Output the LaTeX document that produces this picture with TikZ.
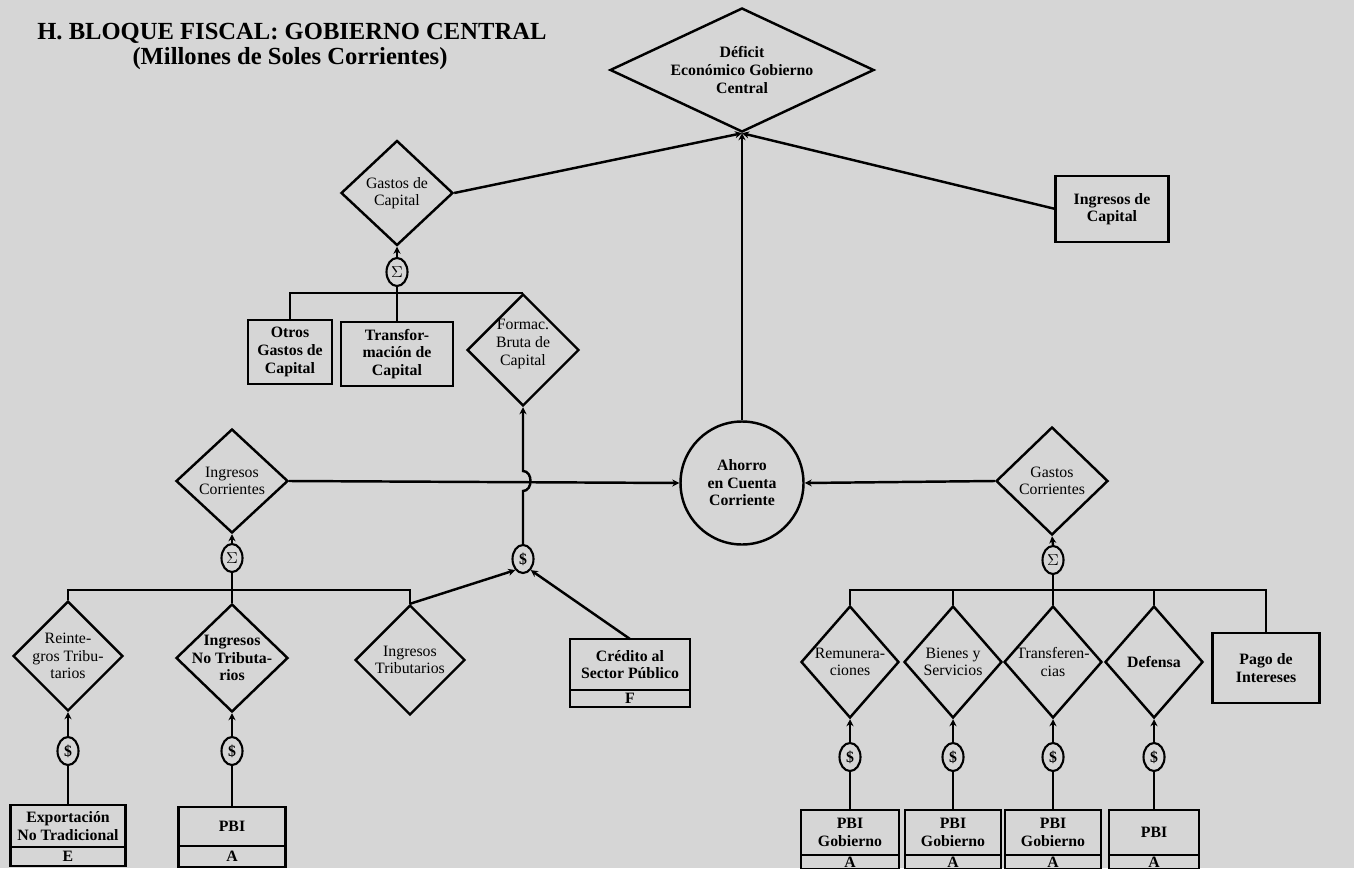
\documentclass[tikz,border=0pt]{standalone}
\usepackage{fontspec}
\setmainfont{Liberation Serif}
\usetikzlibrary{shapes.geometric,arrows.meta}
\newcommand\pxu[1]{#1*0.02cm}
\definecolor{paper}{RGB}{214,214,214}
\begin{document}
\begin{tikzpicture}[x=0.02cm,y=-0.02cm,
  ink/.style={line width=1.4pt,black},
  link/.style={ink},
  flow/.style={ink,-{Stealth[length=4pt,width=4pt]}},
  dia/.style 2 args={draw,ink,diamond,inner sep=0pt,minimum width=\pxu{#1},minimum height=\pxu{#2}},
  box/.style 2 args={draw,ink,rectangle,inner sep=0pt,outer sep=0pt,minimum width=\pxu{#1},minimum height=\pxu{#2},
    align=center,font=\fontsize{9}{10}\selectfont\bfseries},
  sym/.style={draw,line width=1.2pt,ellipse,inner sep=0pt,minimum width=\pxu{21},minimum height=\pxu{28},
    font=\fontsize{9}{9}\selectfont\bfseries},
  txt/.style={align=center,inner sep=0pt,font=\fontsize{9}{10}\selectfont},
  txtb/.style={align=center,inner sep=0pt,font=\fontsize{9}{10}\selectfont\bfseries},
  ttl/.style={inner sep=0pt,font=\fontsize{14}{14}\selectfont\bfseries}]

\useasboundingbox (0,0) rectangle (1354,868);
\fill[paper] (0,0) rectangle (1354,868);
\clip (0,0) rectangle (1354,868);

% heading
\node[ttl,anchor=base west] (title) at (37,40) {H. BLOQUE FISCAL: GOBIERNO CENTRAL};
\node[ttl,anchor=base] (subtitle) at (290,65) {(Millones de Soles Corrientes)};

% top level
\node[dia={264}{124}] (def) at (742,70) {};
\node[txtb] (def-t) at (def) {Déficit\\Económico Gobierno\\Central};
\node[dia={112}{105}] (gcap) at (397,193) {};
\node[txt] (gcap-t) at (gcap) {Gastos de\\Capital};
\node[box={113}{66}] (icap) at (1112,209) {Ingresos de\\Capital};

% capital expenditure
\node[sym] (sg) at (397,272) {$\Sigma$};
\node[box={84}{64}] (otros) at (290,352) {Otros\\Gastos de\\Capital};
\node[box={112}{64}] (tcap) at (397,354) {Transfor-\\mación de\\Capital};
\node[dia={112}{112}] (fbk) at (523,350) {};
\node[txt] (fbk-t) at (523,344) {Formac.\\Bruta de\\Capital};

% current account
\node[draw,ink,circle,inner sep=0pt,minimum size=\pxu{123}] (aho) at (742,483) {};
\node[txtb] (aho-t) at (aho) {Ahorro\\en Cuenta\\Corriente};
\node[dia={112}{104}] (ic) at (232,481) {};
\node[txt] (ic-t) at (ic) {Ingresos\\Corrientes};
\node[dia={112}{108}] (gcor) at (1052,481) {};
\node[txt] (gcor-t) at (gcor) {Gastos\\Corrientes};

% current revenue
\node[sym] (sic) at (232,558) {$\Sigma$};
\node[sym] (sf) at (523,559) {\$};
\node[dia={110}{110}] (reint) at (68,656) {};
\node[txt] (reint-t) at (reint) {Reinte-\\gros Tribu-\\tarios};
\node[dia={112}{108}] (intr) at (232,658) {};
\node[txtb] (intr-t) at (intr) {Ingresos\\No Tributa-\\rios};
\node[dia={110}{110}] (itrib) at (410,660) {};
\node[txt] (itrib-t) at (itrib) {Ingresos\\Tributarios};
\node[box={120}{51}] (cred) at (630,664.5) {Crédito al\\Sector Público};
\node[box={120}{17},anchor=north] (cred-l) at (cred.south) {F};

\node[sym] (er) at (68,751) {\$};
\node[sym] (en) at (232,751) {\$};
\node[box={115}{42}] (exp) at (68,826) {Exportación\\No Tradicional};
\node[box={115}{19},anchor=north] (exp-l) at (exp.south) {E};
\node[box={107}{39}] (pbi) at (232,826.5) {PBI};
\node[box={107}{21},anchor=north] (pbi-l) at (pbi.south) {A};

% current expenditure
\node[sym] (sgc) at (1053,560) {$\Sigma$};
\node[dia={98}{112}] (rem) at (850,662) {};
\node[txt] (rem-t) at (rem) {Remunera-\\ciones};
\node[dia={98}{112}] (bie) at (953,662) {};
\node[txt] (bie-t) at (bie) {Bienes y\\Servicios};
\node[dia={98}{112}] (trf) at (1053,662) {};
\node[txt] (trf-t) at (trf) {Transferen-\\cias};
\node[dia={98}{112}] (dfn) at (1154,662) {};
\node[txtb] (dfn-t) at (dfn) {Defensa};
\node[box={107}{70}] (pago) at (1266,668) {Pago de\\Intereses};

\node[sym] (e1) at (850,757) {\$};
\node[sym] (e2) at (953,757) {\$};
\node[sym] (e3) at (1053,757) {\$};
\node[sym] (e4) at (1154,757) {\$};
\node[box={98}{45}] (p1) at (850,832.5) {PBI\\Gobierno};
\node[box={98}{14},anchor=north] (p1-l) at (p1.south) {A};
\node[box={96}{45}] (p2) at (953,832.5) {PBI\\Gobierno};
\node[box={96}{14},anchor=north] (p2-l) at (p2.south) {A};
\node[box={96}{45}] (p3) at (1053,832.5) {PBI\\Gobierno};
\node[box={96}{14},anchor=north] (p3-l) at (p3.south) {A};
\node[box={90}{45}] (p4) at (1154,832.5) {PBI};
\node[box={90}{14},anchor=north] (p4-l) at (p4.south) {A};

% junction points
\coordinate (hopb) at (523,491);
\coordinate (hopt) at (523,471);
\coordinate (bar2) at (232,590);
\coordinate (bar3) at (1053,590);

% connectors: top level
\draw[flow] (gcap.east) -- (def.south);
\draw[flow] (icap.west) -- (def.south);
\draw[flow] (aho.north) -- (def.south);

% connectors: capital expenditure
\draw[flow] (sg.north) -- (gcap.south);
\draw[link] (sg.south) -- (tcap.north);
\draw[link] (otros.north) |- (fbk.north);
\draw[flow] (sf.north) -- (hopb) .. controls (533,491) and (533,471) .. (hopt) -- (fbk.south);

% connectors: current account
\draw[flow] (ic.east) -- (aho.west);
\draw[flow] (gcor.west) -- (aho.east);

% connectors: current revenue
\draw[flow] (sic.north) -- (ic.south);
\draw[link] (sic.south) -- (intr.north);
\draw[link] (reint.north) |- (bar2) -| (itrib.north);
\draw[flow] (itrib.north) -- (sf.-125);
\draw[flow] (cred.north) -- (sf.-55);
\draw[flow] (er.north) -- (reint.south);
\draw[link] (exp.north) -- (er.south);
\draw[flow] (en.north) -- (intr.south);
\draw[link] (pbi.north) -- (en.south);

% connectors: current expenditure
\draw[flow] (sgc.north) -- (gcor.south);
\draw[link] (sgc.south) -- (trf.north);
\draw[link] (rem.north) |- (bar3) -| (pago.north);
\draw[link] (bie.north) -- (bie.north |- bar3);
\draw[link] (dfn.north) -- (dfn.north |- bar3);
\draw[flow] (e1.north) -- (rem.south);
\draw[flow] (e2.north) -- (bie.south);
\draw[flow] (e3.north) -- (trf.south);
\draw[flow] (e4.north) -- (dfn.south);
\draw[link] (p1.north) -- (e1.south);
\draw[link] (p2.north) -- (e2.south);
\draw[link] (p3.north) -- (e3.south);
\draw[link] (p4.north) -- (e4.south);
\end{tikzpicture}
\end{document}
